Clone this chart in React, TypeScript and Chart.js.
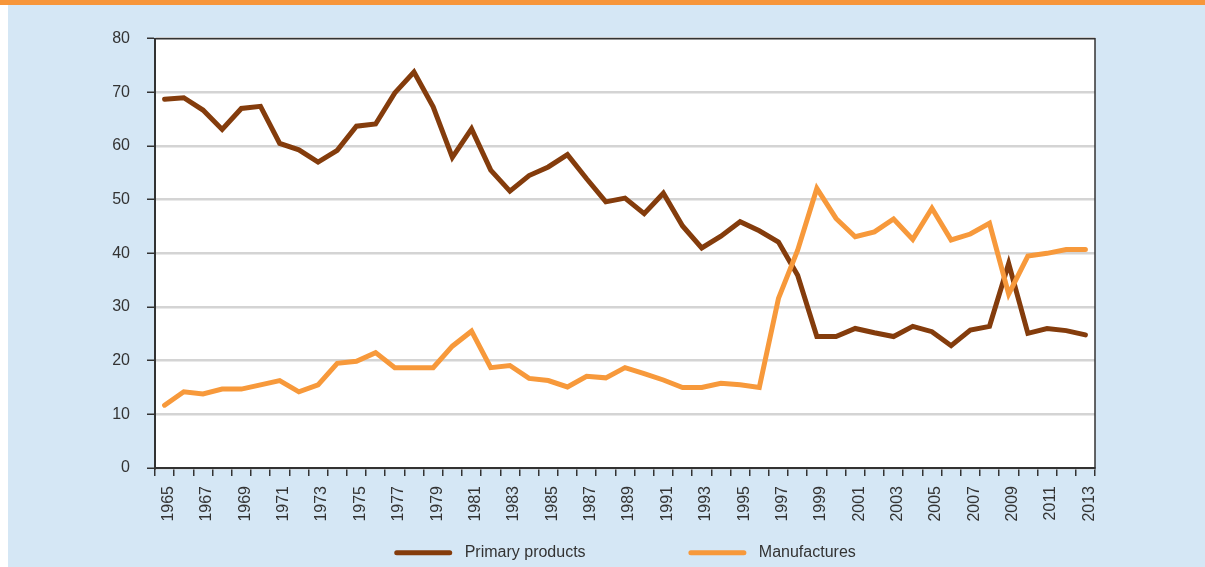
import React, { useEffect, useRef } from 'react';
import { Chart, registerables } from 'chart.js';

Chart.register(...registerables);

const years = [
  '1965', '1966', '1967', '1968', '1969', '1970', '1971', '1972', '1973', '1974',
  '1975', '1976', '1977', '1978', '1979', '1980', '1981', '1982', '1983', '1984',
  '1985', '1986', '1987', '1988', '1989', '1990', '1991', '1992', '1993', '1994',
  '1995', '1996', '1997', '1998', '1999', '2000', '2001', '2002', '2003', '2004',
  '2005', '2006', '2007', '2008', '2009', '2010', '2011', '2012', '2013',
];

const primaryProducts = [
  68.7, 69.0, 66.7, 63.1, 67.0, 67.4, 60.5, 59.3, 57.0, 59.2,
  63.7, 64.1, 69.9, 73.8, 67.3, 57.9, 63.2, 55.5, 51.6, 54.5,
  56.1, 58.4, 53.9, 49.6, 50.3, 47.4, 51.2, 45.1, 41.0, 43.2,
  45.9, 44.2, 42.1, 35.9, 24.5, 24.5, 26.0, 25.2, 24.5, 26.4,
  25.4, 22.8, 25.7, 26.4, 38.1, 25.1, 26.0, 25.6, 24.8,
];

const manufactures = [
  11.7, 14.2, 13.8, 14.7, 14.7, 15.5, 16.3, 14.2, 15.5, 19.5,
  19.9, 21.5, 18.7, 18.7, 18.7, 22.7, 25.5, 18.7, 19.1, 16.7,
  16.3, 15.1, 17.1, 16.8, 18.7, 17.6, 16.4, 15.0, 15.0, 15.8,
  15.5, 15.0, 31.6, 40.6, 52.1, 46.5, 43.1, 44.0, 46.4, 42.6,
  48.4, 42.5, 43.6, 45.6, 32.4, 39.5, 40.0, 40.7, 40.7,
];

const seriesNames = ['Primary products', 'Manufactures'];
const BROWN = '#843c0c';
const ORANGE = '#f7993b';
const TEXT = '#333333';
const FONT = '"Liberation Sans", Arial, Helvetica, sans-serif';

const framePlugin = {
  id: 'frame',
  beforeDraw(chart: any) {
    const { ctx, chartArea } = chart;
    const { left, top, right, bottom } = chartArea;
    ctx.save();
    ctx.fillStyle = '#ffffff';
    ctx.fillRect(left, top, right - left, bottom - top);
    ctx.restore();
  },
  beforeDatasetsDraw(chart: any) {
    const { ctx, chartArea } = chart;
    const { left, top, right, bottom } = chartArea;
    ctx.save();
    ctx.strokeStyle = TEXT;
    ctx.lineWidth = 1.5;
    ctx.strokeRect(left, top, right - left, bottom - top);
    ctx.restore();
  },
};

export default function App() {
  const ref = useRef<HTMLCanvasElement | null>(null);

  useEffect(() => {
    if (!ref.current) return;
    const chart = new Chart(ref.current, {
      type: 'line',
      data: {
        labels: years,
        datasets: [
          {
            label: seriesNames[0],
            data: primaryProducts,
            borderColor: BROWN,
            backgroundColor: BROWN,
            borderWidth: 5,
            pointRadius: 0,
            tension: 0,
            borderCapStyle: 'round',
            order: 2,
          },
          {
            label: seriesNames[1],
            data: manufactures,
            borderColor: ORANGE,
            backgroundColor: ORANGE,
            borderWidth: 5,
            pointRadius: 0,
            tension: 0,
            borderCapStyle: 'round',
            order: 1,
          },
        ],
      },
      options: {
        responsive: false,
        animation: false,
        devicePixelRatio: 1,
        layout: { padding: { left: 105, right: 110, top: 38.7, bottom: 9.3 } },
        plugins: {
          tooltip: { enabled: false },
          legend: {
            position: 'bottom',
            fullSize: false,
            labels: {
              boxWidth: 58,
              boxHeight: 5,
              padding: 5,
              color: TEXT,
              font: { family: FONT, size: 16 },
              useBorderRadius: true,
              borderRadius: 2.5,
              generateLabels: (chart: any) => {
                const items = Chart.defaults.plugins.legend.labels.generateLabels(chart);
                items.sort((a: any, b: any) => a.datasetIndex - b.datasetIndex);
                return items.map((it: any, i: number) => ({
                  ...it,
                  lineWidth: 0,
                  text: i === 0 ? ' ' + it.text + '\u00a0'.repeat(22) : ' ' + it.text,
                }));
              },
            },
          },
        },
        scales: {
          x: {
            offset: true,
            afterFit: (scale: any) => { scale.height = 71.7; },
            grid: {
              offset: true,
              drawOnChartArea: false,
              drawTicks: true,
              tickLength: 8,
              color: TEXT,
              tickColor: TEXT,
              lineWidth: 1.5,
            },
            border: { display: true, color: TEXT, width: 2 },
            ticks: {
              autoSkip: false,
              minRotation: 90,
              maxRotation: 90,
              padding: 10,
              labelOffset: 4,
              color: TEXT,
              font: { family: FONT, size: 16 },
              callback: (_v: any, i: number) => (i % 2 === 0 ? years[i] : ''),
            },
          },
          y: {
            min: 0,
            max: 80,
            afterFit: (scale: any) => { scale.width = 50; },
            grid: {
              color: '#d4d4d4',
              lineWidth: 2.5,
              tickLength: 8,
              tickColor: TEXT,
              tickWidth: 1.5,
            },
            border: { display: true, color: TEXT, width: 2 },
            ticks: {
              stepSize: 10,
              padding: 17,
              color: TEXT,
              font: { family: FONT, size: 16 },
            },
          },
        },
      },
      plugins: [framePlugin],
    } as any);
    return () => chart.destroy();
  }, []);

  return (
    <div
      style={{
        position: 'fixed',
        left: 0,
        top: 0,
        width: 1205,
        height: 567,
        overflow: 'hidden',
        background: '#ffffff',
      }}
    >
      <div style={{ position: 'absolute', left: 0, top: 0, width: 1205, height: 5, background: '#f7963a' }} />
      <div style={{ position: 'absolute', left: 8, top: 5, right: 0, bottom: 0, background: '#d5e7f5' }} />
      <canvas ref={ref} width={1205} height={580} style={{ position: 'absolute', left: 0, top: 0 }} />
    </div>
  );
}
